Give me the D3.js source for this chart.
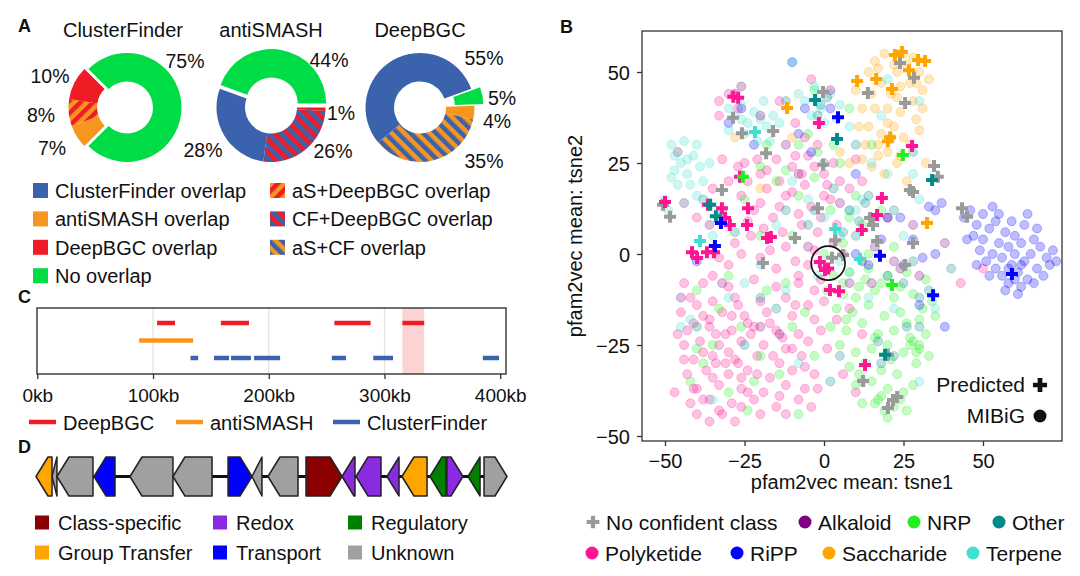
<!DOCTYPE html>
<html>
<head>
<meta charset="utf-8">
<script src="https://cdn.jsdelivr.net/npm/d3@7"></script>
<style>
body{margin:0;background:#fff;}
svg{font-family:"Liberation Sans",Arial,sans-serif;fill:#111;}
</style>
</head>
<body>
<svg id="fig" width="1080" height="576"></svg>
<script>
// ---- panel A data
var donutTitles = ['ClusterFinder', 'antiSMASH', 'DeepBGC'];
var donutKeys = [
    ['aS', 'aS+DeepBGC', 'DeepBGC', 'None'],
    ['DeepBGC', 'CF+DeepBGC', 'CF', 'None'],
    ['None', 'aS', 'aS+CF', 'CF']
];
var donutValues = [
    [7, 8, 10, 75],
    [1, 26, 28, 44],
    [5, 4, 35, 55]
];
var overlapKeys = ['CF', 'aS', 'DeepBGC', 'None', 'aS+DeepBGC', 'CF+DeepBGC', 'aS+CF'];
var overlapLabels = ['ClusterFinder overlap', 'antiSMASH overlap', 'DeepBGC overlap', 'No overlap',
    'aS+DeepBGC overlap', 'CF+DeepBGC overlap', 'aS+CF overlap'];

// ---- panel C data
var trackNames = ['DeepBGC', 'antiSMASH', 'ClusterFinder'];
var deepbgcHits = [[103.5, 119], [158.6, 182.9], [256.7, 288], [315.5, 334.3]];
var antismashHits = [[88, 134.7]];
var clusterfinderHits = [[132.4, 139], [152.7, 165.7], [167.4, 184.6], [187.3, 209.8], [254.5, 266.8], [290.3, 307.4], [385, 399]];
var highlightRegion = [315.5, 334.3];
var kbTicks = [0, 100, 200, 300, 400];

// ---- panel D data (kb)
var geneStart = [0, 1.36, 1.78, 4.93, 7.98, 11.63, 16.31, 18.34, 19.70, 22.93, 25.99, 27.18, 29.81, 31.08, 33.46, 34.90, 36.69, 38.05];
var geneEnd   = [1.36, 1.78, 4.84, 6.71, 11.63, 14.95, 18.34, 19.19, 22.25, 25.99, 27.09, 29.30, 30.83, 33.21, 34.82, 36.26, 37.71, 40.0];
var geneStrand = [-1, -1, -1, -1, -1, -1, 1, -1, -1, 1, -1, -1, -1, -1, -1, 1, -1, 1];
var geneRole = ['Group Transfer', 'Unknown', 'Unknown', 'Transport', 'Unknown', 'Unknown', 'Transport', 'Unknown', 'Unknown',
    'Class-specific', 'Redox', 'Redox', 'Redox', 'Group Transfer', 'Regulatory', 'Redox', 'Regulatory', 'Unknown'];
var roleNames = ['Class-specific', 'Redox', 'Regulatory', 'Group Transfer', 'Transport', 'Unknown'];

// ---- panel B data (tsne coords)
var xTicks = [-50, -25, 0, 25, 50];
var yTicks = [-50, -25, 0, 25, 50];

var mibigPolyketide = [
    [-38,-8],[-30,-9],[-22,-7],[-15,-9],[-8,-8],[-3,-10],
    [-42,-12],[-35,-13],[-28,-12],[-20,-13],[-12,-12],[-5,-14],[0,-13],
    [-45,-16],[-38,-17],[-32,-16],[-25,-17],[-18,-16],[-10,-17],[-3,-18],
    [-43,-21],[-36,-20],[-29,-21],[-22,-20],[-15,-21],[-8,-22],[-1,-21],
    [-44,-25],[-39,-24],[-33,-25],[-26,-24],[-19,-25],[-12,-26],[-5,-24],[1,-26],
    [-41,-29],[-35,-28],[-28,-29],[-21,-28],[-14,-30],[-7,-28],
    [-43,-33],[-37,-32],[-30,-33],[-24,-32],[-17,-34],[-10,-32],[-3,-33],
    [-40,-37],[-33,-36],[-26,-37],[-19,-38],[-12,-36],[-6,-37],
    [-42,-41],[-36,-40],[-29,-41],[-22,-40],[-15,-42],[-8,-40],
    [-40,-44],[-33,-43],[-20,-44],
    [-40,-14],[-36,-18],[-31,-22],[-27,-14],[-24,-19],[-34,-30],[-38,-27],[-30,-27],[-26,-34],
    [-16,-28],[-10,-26],[-6,-31],[-2,-37],[-44,-29],[-38,-40],[-32,-44],[-26,-42],
    [-41,-19],[-34,-22],[-29,-17],[-23,-22],[-17,-19],[-13,-23],[-9,-14],[-21,-33],[-27,-30],
    [-35,-34],[-41,-37],[-14,-39],[-24,-38],[-31,-30],
    [-46,-22],[-47,-38],[-36,-46],[-28,-46],[-12,-44],[-4,-42],[-44,-8],[-35,-6],[4,-18],
    [-25,25],[-20,22],[-15,26],[-10,24],[-5,27],[0,22],[5,20],[-18,18],[-12,16],[-6,19],[2,15],
    [8,18],[-22,12],[-16,10],[-8,11],[-2,6],[4,8],[-28,3],[-12,2],[6,0],[-30,20],[-35,18],
    [-40,10],[-5,-3],[12,20],[15,10],[-33,42],[-27,40],[-14,42],[-2,30],[10,26],
    [-27,24],[-24,20],[-21,26],[-18,23],[-14,20],[-9,27],[-7,22],[-3,24],[1,19],[3,25],
    [-26,16],[-20,14],[-14,13],[-10,17],[-4,13],[0,16],[-24,9],[-19,7],[-13,6],[-7,8],[-1,10],
    [3,3],[-26,0],[-20,-1],[-15,-4],[-9,-2],[-3,1],[-30,-3],[-23,5],[-17,1],[-8,-6],[-1,-7],
    [-33,-1],[-32,26],[-6,32],[-9,36],[-33,38],[-30,44],[-4,48],
    [8,-15],[12,-22],[6,-33],[10,-38],[50,-4],[43,-8],[-46,28],[-44,14]
];
var mibigNRP = [
    [3,-6],[8,-5],[14,-4],[20,-6],[26,-5],[32,-7],
    [1,-10],[6,-11],[11,-9],[16,-10],[22,-12],[28,-11],[34,-13],
    [4,-15],[9,-16],[14,-14],[19,-17],[24,-16],[30,-18],[35,-17],
    [2,-20],[7,-21],[12,-19],[17,-22],[22,-21],[27,-23],[32,-22],
    [5,-25],[10,-27],[15,-26],[20,-25],[25,-27],[30,-26],
    [8,-31],[13,-30],[18,-32],[23,-33],
    [10,-36],[15,-35],[20,-37],[25,-38],[28,-36],
    [12,-41],[17,-40],[22,-42],[26,-43],[20,-45],
    [27,-25],[29,-27],[28,-24],[30,-25],[16,-41],[18,-39],
    [6,-8],[10,-12],[18,-8],[24,-9],[31,-15],[26,-19],[21,-29],[16,-23],[11,-33],[24,-40],
    [19,-43],[29,-30],[33,-28],[13,-7],[7,-18],
    [-40,-10],[-33,-15],[-26,-20],[-20,-28],[-14,-33],[-38,-30],[-30,-38],[-24,-43],
    [-10,-20],[-3,-28],[-42,-35],[-18,-10],[-35,-25],[-8,-44],[-30,-6],[-22,-35],[-12,-8],
    [-6,-16],[-40,-26],
    [-15,20],[-8,16],[-3,21],[5,25],[10,16],[-10,5],[0,0],[6,3],[12,8],[-20,5],[-25,15],
    [3,30],[-5,33],[15,30],[18,12],[22,2],[-3,45],[8,40],
    [-2,28],[-8,30],[-12,23],[2,12],[8,10],[14,0],[-20,24],[-18,30]
];
var mibigRiPP = [
    [44,10],[46,12],[48,8],[50,11],[47,5],[50,4],[52,7],[54,9],[55,3],[53,0],[51,-2],[56,-1],
    [58,2],[60,5],[62,3],[59,-3],[61,-5],[63,-2],[65,0],[66,4],[68,2],[70,-1],[72,1],[67,-4],
    [64,-7],[62,-9],[58,-8],[56,-6],[54,-4],[60,0],[57,6],[63,8],[66,-8],[69,-6],[71,-3],[73,-2],
    [59,9],[55,11],[52,-6],[49,1],[45,4],[57,-10],[61,-11],[64,11],[67,7],[53,13],[48,-3],
    [62,-3],[58,-4],[60,-7],[35,12],[37,14],[33,13],
    [30,-14],[35,0],[20,10],[25,-3],[38,-20],[-10,52.7],[-22,30],[-6,40],[10,22],[-30,36],
    [10,0],[14,-3],[18,4],[24,10],[28,4],[31,-1],[-4,28],[-8,33],[-26,40],[2,40],[-40,-2]
];
var mibigSaccharide = [
    [14,50],[16,53],[19,55],[22,52],[25,55],[28,54],[30,50],[27,47],[24,46],[21,44],[18,47],
    [15,44],[12,40],[16,40],[20,40],[24,39],[28,42],[31,45],[33,48],[14,35],[18,33],[22,35],
    [25,32],[20,28],[17,27],[23,25],[27,30],[13,30],[10,45],[29,37],[31,40],[19,22],[26,20],
    [32,25],[-10,32],[-20,18],[8,25],
    [17,51],[23,50],[26,52],[29,47],[20,36],[23,43],[17,30],[21,32],[15,24],[24,27],[30,34],
    [12,26],[11,35],[5,28],[-28,32]
];
var mibigTerpene = [
    [-48,30],[-46,28],[-44,31],[-45,25],[-47,23],[-43,22],[-41,27],[-39,24],[-42,19],[-46,19],
    [-38,20],[-50,15],[-49,12],[-44,14],
    [-30,40],[-28,38],[-26,41],[-24,36],[-22,39],[-20,37],[-18,35],[-25,33],[-21,31],[-16,38],
    [-14,36],[-30,34],[-8,44],[-6,42],[-3,46],[2,44],[-1,40],[5,41],[8,35],[-10,52.7],
    [-10,20],[-5,15],[0,10],[5,5],[10,12],[15,25],[20,22],[-15,8],[-35,5],[-20,-3],[25,5],
    [30,15],[8,-5],[-30,-12],[-42,-18],[-45,-20],[35,-15],[12,-35],[-8,-30],
    [20,48],[30,42],[18,38],
    [-47,27],[-43,26],[-40,30],[-36,25],[-48,21],[-40,16],[-26,37],[-19,42],[-17,31],[-4,38],
    [0,36],[4,37],[12,15],[8,12],[5,-2],[14,-12],[-2,-6],[-12,-10],[-25,-8],[22,-15],[30,-35],
    [-35,-40],[28,22]
];
var mibigOther = [
    [-38,15],[-33,10],[-28,6],[-12,12],[-5,8],[3,18],[10,5],[13,14],[20,-6],[25,-8],[28,-2],
    [33,-10],[30,-12],[-20,-12],[-40,-20],[-25,-25],[5,-28],[18,-30],[22,-28],[0,25],[-2,38],
    [10,30],[28,28],[-15,-15],[40,-4],
    [8,12],[11,9],[14,16],[6,6],[-1,41],[1,43],[26,-20],[30,-20],[2,-35],[-3,12],[-32,12],
    [17,-24],[-12,42],[22,12]
];
var mibigAlkaloid = [
    [-28,44],[-12,30],[-8,22],[5,14],[12,-2],[20,10],[24,-4],[30,-6],[-32,-8],[-20,-20],
    [-45,-12],[38,3],[15,-8],[-5,2],[28,8],
    [-26,46],[-20,38],[2,45],[16,2],[22,-2],[8,-8],[-14,-22],[-36,8]
];

var predUnknown = [
    [23.9,52.5],[28.3,48.4],[13.8,44.2],[25.5,41.5],[-0.3,44.5],[-28.6,37.4],[-25.8,33.2],
    [-16.0,33.8],[-18.2,27.7],[-0.3,24.5],[34.6,24.2],[35.8,21.2],[-32.1,17.6],[27.0,17.6],
    [28.0,17.0],[-50.6,13.5],[-48.4,10.2],[-1.9,12.6],[43.4,12.6],[45.0,10.2],[14.5,9.9],
    [15.4,8.0],[-9.1,4.4],[16.7,3.6],[28.0,3.0],[3.5,3.8],[-19.2,-2.5],[25.5,-3.0],[6.0,-0.3],
    [12.3,-34.9],[20.1,-42.3],[21.7,-40.1],[23.0,-39.3],[20.1,-27.7],[2.5,-1.0]
];
var predPolyketide = [
    [-27.0,42.9],[-28.5,43.2],[-1.6,36.0],[-26.4,21.2],[27.7,29.7],[-23.9,12.6],[-36.5,13.5],
    [-31.1,9.9],[-29.6,8.0],[-24.2,8.0],[-17.9,4.4],[-16.7,4.7],[11.9,6.6],[16.7,10.7],
    [18.2,15.4],[-41.5,0.5],[-39.9,-1.1],[-36.8,0.5],[-34.6,0.5],[-1.3,-2.2],[0.3,-4.4],
    [1.3,-4.0],[1.9,-9.9],[4.7,-10.2],[12.9,-30.5],[-50.0,14.3],[-32.1,12.6]
];
var predNRP = [[24.8,27.2], [-25.5,21.2], [21.4,-8.5]];
var predOther = [[-2.8,42.3], [4.1,31.6], [34.0,20.3], [-34.0,10.4], [-35.8,13.5], [19.2,-27.7]];
var predRiPP = [[4.4,37.6], [-32.4,8.5], [-34.3,2.2], [17.6,-0.5], [59.1,-5.5], [34.3,-11.3]];
var predSaccharide = [
    [22.3,54.7],[24.5,55.5],[29.6,53.3],[31.8,53.0],[26.7,50.5],[10.4,47.5],[16.4,48.1],
    [21.4,45.3],[-11.6,40.1],[20.1,31.0],[20.8,32.1],[32.4,8.5]
];
var predTerpene = [[-21.7,33.5], [3.5,6.9], [-39.0,3.6], [11.3,-1.4]];

// ---- styles
var overlapColor = {CF: '#3a62ad', aS: '#f7961e', DeepBGC: '#ee1d25', None: '#00dc46'};
var classColor = {Alkaloid: '#800080', NRP: '#22ee22', Other: '#008b8b', Polyketide: '#ff1493',
    RiPP: '#0000ff', Saccharide: '#ffa500', Terpene: '#40e0d0', Unknown: '#9a9a9a'};
var roleColor = {'Class-specific': '#8b0000', 'Redox': '#8a2be2', 'Regulatory': '#008000',
    'Group Transfer': '#ffa500', 'Transport': '#0000ff', 'Unknown': '#a0a0a0'};
var trackColor = ['#ee1d25', '#f7961e', '#3a62ad'];

var svg = d3.select('#fig');
var defs = svg.append('defs');

function panelLetter(t, x, y){
    svg.append('text').attr('x', x).attr('y', y)
        .attr('font-size', 18).attr('font-weight', 'bold').text(t);
}

// hatched fills for the double overlaps
function makeHatch(id, base, stripe, angle){
    var p = defs.append('pattern').attr('id', id)
        .attr('patternUnits', 'userSpaceOnUse')
        .attr('width', 9).attr('height', 9)
        .attr('patternTransform', 'rotate(' + angle + ')');
    p.append('rect').attr('width', 9).attr('height', 9).attr('fill', base);
    p.append('rect').attr('width', 4.5).attr('height', 9).attr('fill', stripe);
}
makeHatch('h-aS-DeepBGC', overlapColor.aS, overlapColor.DeepBGC, 45);
makeHatch('h-CF-DeepBGC', overlapColor.CF, overlapColor.DeepBGC, -45);
makeHatch('h-aS-CF', overlapColor.aS, overlapColor.CF, -45);

function overlapFill(k){
    if (overlapColor[k]) return overlapColor[k];
    return 'url(#h-' + k.replace('+', '-') + ')';
}

// ===== A
panelLetter('A', 18, 32);
var donutCx = [123, 271, 420], donutCy = 107.5;
var donutStart = [225, 90, 70];
var donutExplode = [4, 4, 9];
var pctPos = [
    [[-71,47.5], [-82,14.5], [-73,-24.5], [62,-39.5]],
    [[70,12.5], [62,50.5], [-68,49.5], [58,-40.5]],
    [[82,-2.5], [77,20.5], [64,60.5], [64,-42.5]]
];
var arc = d3.arc().innerRadius(26).outerRadius(54.5);

donutValues.forEach(function(vals, i){
    var s = donutStart[i] * Math.PI / 180;
    var pie = d3.pie().sort(null).startAngle(s).endAngle(s + 2 * Math.PI);
    var g = svg.append('g').attr('transform', 'translate(' + donutCx[i] + ',' + donutCy + ')');

    g.selectAll('path').data(pie(vals)).enter().append('path')
        .attr('d', arc)
        .attr('fill', (d, j) => overlapFill(donutKeys[i][j]))
        .attr('transform', function(d, j){
            if (donutKeys[i][j] != 'None') return null;
            var a = (d.startAngle + d.endAngle) / 2, e = donutExplode[i];
            return 'translate(' + (Math.sin(a) * e) + ',' + (-Math.cos(a) * e) + ')';
        });

    g.selectAll('text.pct').data(vals).enter().append('text')
        .attr('class', 'pct')
        .attr('x', (d, j) => pctPos[i][j][0])
        .attr('y', (d, j) => pctPos[i][j][1])
        .attr('text-anchor', 'middle').attr('font-size', 19.5)
        .text(d => d + '%');

    svg.append('text').attr('x', donutCx[i]).attr('y', 37)
        .attr('text-anchor', 'middle').attr('font-size', 20)
        .text(donutTitles[i]);
});

var legA = svg.append('g');
overlapKeys.forEach(function(k, i){
    var col = i < 4 ? 0 : 1, row = i < 4 ? i : i - 4;
    var x0 = col == 0 ? 33 : 270, yb = 198 + row * 28.4;
    legA.append('rect').attr('x', x0).attr('y', yb - 15).attr('width', 15).attr('height', 15)
        .attr('fill', overlapFill(k));
    legA.append('text').attr('x', x0 + 22).attr('y', yb).attr('font-size', 20).text(overlapLabels[i]);
});

// ===== C
panelLetter('C', 18, 303);
var cx = d3.scaleLinear().domain([0, 405]).range([37.3, 506]);
var cy = d3.scalePoint().domain(trackNames).range([323, 358]);
var cTop = 308, cBot = 374;

svg.append('g').selectAll('line').data(kbTicks.slice(1, 4)).enter().append('line')
    .attr('x1', d => cx(d)).attr('x2', d => cx(d))
    .attr('y1', cTop).attr('y2', cBot)
    .attr('stroke', '#e2e2e2').attr('stroke-width', 1.2);

svg.append('rect')
    .attr('x', cx(highlightRegion[0])).attr('y', cTop)
    .attr('width', cx(highlightRegion[1]) - cx(highlightRegion[0])).attr('height', cBot - cTop)
    .attr('fill', '#fbd3d3');

[deepbgcHits, antismashHits, clusterfinderHits].forEach(function(hits, i){
    svg.append('g').selectAll('line').data(hits).enter().append('line')
        .attr('x1', d => cx(d[0])).attr('x2', d => cx(d[1]))
        .attr('y1', cy(trackNames[i])).attr('y2', cy(trackNames[i]))
        .attr('stroke', trackColor[i]).attr('stroke-width', 4.5);
});

svg.append('rect').attr('x', 37).attr('y', cTop).attr('width', 469).attr('height', cBot - cTop)
    .attr('fill', 'none').attr('stroke', '#333').attr('stroke-width', 1.4);

var cAxis = svg.append('g').attr('transform', 'translate(0,' + cBot + ')')
    .call(d3.axisBottom(cx).tickValues(kbTicks).tickSize(5).tickFormat(d => d + 'kb'));
cAxis.select('.domain').remove();
cAxis.selectAll('line').attr('stroke', '#333').attr('stroke-width', 1.3);
cAxis.selectAll('text').attr('font-size', 19).attr('font-family', null).attr('fill', '#111').attr('dy', null).attr('y', 28);

var legCx = [29, 176, 333];
trackNames.forEach(function(n, i){
    svg.append('line').attr('x1', legCx[i]).attr('x2', legCx[i] + 27)
        .attr('y1', 422).attr('y2', 422)
        .attr('stroke', trackColor[i]).attr('stroke-width', 4.5);
    svg.append('text').attr('x', legCx[i] + 34).attr('y', 430).attr('font-size', 20).text(n);
});

// ===== D
panelLetter('D', 18, 453);
var gx = d3.scaleLinear().domain([0, 40]).range([36, 507]);
var gMid = 476.5, gHalf = 19.5, headLen = 12;

svg.append('line').attr('x1', gx(0)).attr('x2', gx(40)).attr('y1', gMid).attr('y2', gMid)
    .attr('stroke', '#111').attr('stroke-width', 3);

function genePath(i){
    var a = gx(geneStart[i]), b = gx(geneEnd[i]);
    var h = Math.min(headLen, b - a);
    var t = gMid - gHalf, bt = gMid + gHalf;
    var pts;
    if (geneStrand[i] > 0){
        pts = [[a, t], [b - h, t], [b, gMid], [b - h, bt], [a, bt]];
    } else {
        pts = [[b, t], [a + h, t], [a, gMid], [a + h, bt], [b, bt]];
    }
    return 'M' + pts.map(p => p.join(',')).join('L') + 'Z';
}

svg.append('g').selectAll('path').data(geneStart).enter().append('path')
    .attr('d', (d, i) => genePath(i))
    .attr('fill', (d, i) => roleColor[geneRole[i]])
    .attr('stroke', '#222').attr('stroke-width', 1.5).attr('stroke-linejoin', 'round');

var legDx = [35, 213, 348];
roleNames.forEach(function(r, i){
    var col = i % 3, row = Math.floor(i / 3);
    var yb = 529.5 + row * 30;
    svg.append('rect').attr('x', legDx[col]).attr('y', yb - 14).attr('width', 14).attr('height', 14)
        .attr('fill', roleColor[r]);
    svg.append('text').attr('x', legDx[col] + 23).attr('y', yb).attr('font-size', 20).text(r);
});

// ===== B
panelLetter('B', 560, 33);
var bx = d3.scaleLinear().domain([-57.23, 74.84]).range([642, 1062]);
var by = d3.scaleLinear().domain([-51.37, 61.26]).range([441, 31]);

var mibigSets = [['Polyketide', mibigPolyketide], ['NRP', mibigNRP], ['RiPP', mibigRiPP],
    ['Saccharide', mibigSaccharide], ['Terpene', mibigTerpene], ['Other', mibigOther], ['Alkaloid', mibigAlkaloid]];
var predSets = [['Unknown', predUnknown], ['Polyketide', predPolyketide], ['NRP', predNRP], ['Other', predOther],
    ['RiPP', predRiPP], ['Saccharide', predSaccharide], ['Terpene', predTerpene]];

var scatter = svg.append('g');
mibigSets.forEach(function(s){
    scatter.append('g').selectAll('circle').data(s[1]).enter().append('circle')
        .attr('cx', d => bx(d[0])).attr('cy', d => by(d[1])).attr('r', 4.5)
        .attr('fill', classColor[s[0]]).attr('fill-opacity', 0.26)
        .attr('stroke', classColor[s[0]]).attr('stroke-opacity', 0.26).attr('stroke-width', 1);
});

var cross = d3.symbol().type(d3.symbolCross).size(80)();
predSets.forEach(function(s){
    scatter.append('g').selectAll('path').data(s[1]).enter().append('path')
        .attr('d', cross)
        .attr('transform', d => 'translate(' + bx(d[0]) + ',' + by(d[1]) + ')')
        .attr('fill', classColor[s[0]]);
});

svg.append('circle').attr('cx', bx(1.3)).attr('cy', by(-2.5)).attr('r', 17)
    .attr('fill', 'none').attr('stroke', '#111').attr('stroke-width', 1.6);

svg.append('rect').attr('x', 642).attr('y', 31).attr('width', 420).attr('height', 410)
    .attr('fill', 'none').attr('stroke', '#333').attr('stroke-width', 1.3);

var bxAxis = svg.append('g').attr('transform', 'translate(0,441)')
    .call(d3.axisBottom(bx).tickValues(xTicks).tickSize(5));
var byAxis = svg.append('g').attr('transform', 'translate(642,0)')
    .call(d3.axisLeft(by).tickValues(yTicks).tickSize(5));
[bxAxis, byAxis].forEach(function(a){
    a.select('.domain').remove();
    a.selectAll('line').attr('stroke', '#333').attr('stroke-width', 1.3);
    a.selectAll('text').attr('font-size', 20).attr('font-family', null).attr('fill', '#111');
});
bxAxis.selectAll('text').attr('dy', null).attr('y', 27);
byAxis.selectAll('text').attr('x', -12).attr('dy', '0.36em');

svg.append('text').attr('x', 852).attr('y', 489).attr('text-anchor', 'middle')
    .attr('font-size', 20).text('pfam2vec mean: tsne1');
svg.append('text').attr('transform', 'translate(582,236) rotate(-90)').attr('text-anchor', 'middle')
    .attr('font-size', 20).text('pfam2vec mean: tsne2');

// marker key inside the plot
svg.append('text').attr('x', 1025).attr('y', 392).attr('text-anchor', 'end').attr('font-size', 21).text('Predicted');
svg.append('path').attr('d', d3.symbol().type(d3.symbolCross).size(110)())
    .attr('transform', 'translate(1040,385)').attr('fill', '#111');
svg.append('text').attr('x', 1025).attr('y', 423).attr('text-anchor', 'end').attr('font-size', 21).text('MIBiG');
svg.append('circle').attr('cx', 1040).attr('cy', 416).attr('r', 6.5).attr('fill', '#111');

// class legend under the plot
var legB = [
    ['Unknown', 'No confident class', 593, 522],
    ['Alkaloid', 'Alkaloid', 805, 522],
    ['NRP', 'NRP', 914, 522],
    ['Other', 'Other', 999, 522],
    ['Polyketide', 'Polyketide', 592, 553],
    ['RiPP', 'RiPP', 737, 553],
    ['Saccharide', 'Saccharide', 829, 553],
    ['Terpene', 'Terpene', 973, 553]
];
legB.forEach(function(l){
    if (l[0] == 'Unknown'){
        svg.append('path').attr('d', d3.symbol().type(d3.symbolCross).size(90)())
            .attr('transform', 'translate(' + l[2] + ',' + l[3] + ')').attr('fill', classColor.Unknown);
    } else {
        svg.append('circle').attr('cx', l[2]).attr('cy', l[3]).attr('r', 6.5).attr('fill', classColor[l[0]]);
    }
    svg.append('text').attr('x', l[2] + 13).attr('y', l[3] + 8).attr('font-size', 21).text(l[1]);
});
</script>
</body>
</html>
